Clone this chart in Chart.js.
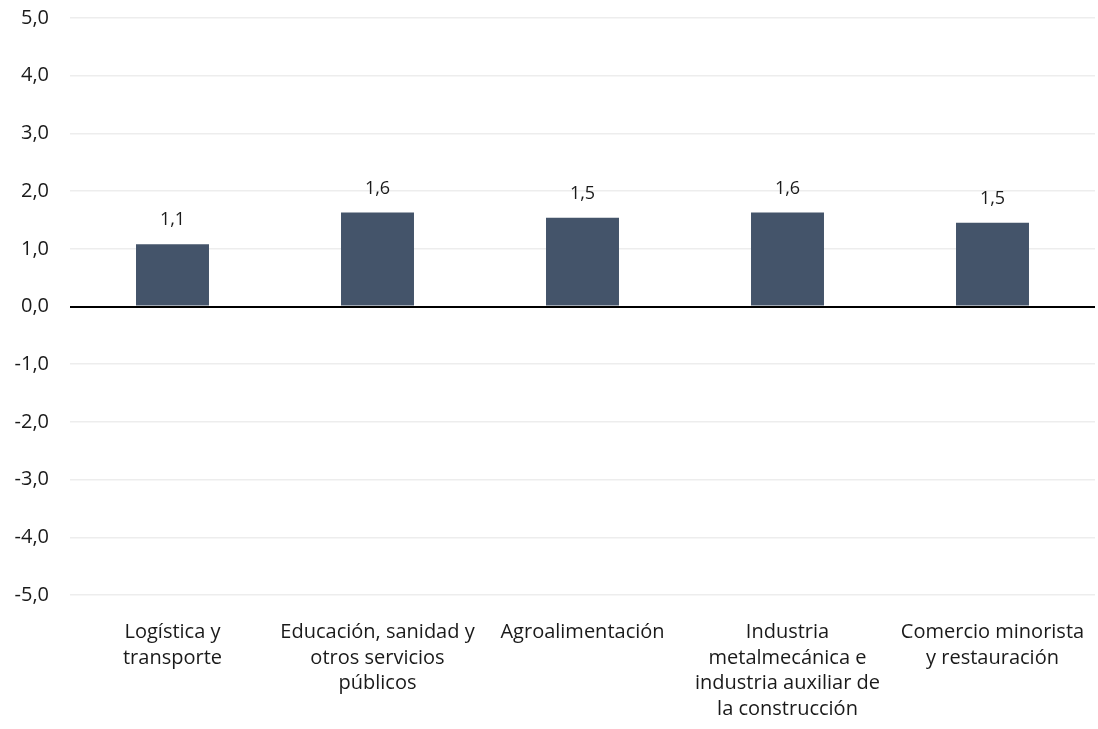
<!DOCTYPE html>
<html><head><meta charset="utf-8">
<script src="https://cdn.jsdelivr.net/npm/chart.js@4.4.0/dist/chart.umd.min.js"></script>
<style>html,body{margin:0;padding:0;background:#fff}#wrap{width:1098px;height:729px}</style>
</head><body><div id="wrap"><canvas id="c" width="1098" height="729"></canvas></div>
<script>
const categories = [
  ["Logística y", "transporte"],
  ["Educación, sanidad y", "otros servicios", "públicos"],
  ["Agroalimentación"],
  ["Industria", "metalmecánica e", "industria auxiliar de", "la construcción"],
  ["Comercio minorista", "y restauración"]
];
const values = [1.08, 1.63, 1.54, 1.63, 1.45];
const valueLabels = ["1,1", "1,6", "1,5", "1,6", "1,5"];
const yMin = -5, yMax = 5, yStep = 1;

const FONT = "'Open Sans', sans-serif";
const TEXT = '#1a1a1a';

const dataLabels = {
  id: 'dataLabels',
  afterDatasetsDraw(chart) {
    const ctx = chart.ctx;
    const meta = chart.getDatasetMeta(0);
    ctx.save();
    ctx.font = '18px ' + FONT;
    ctx.fillStyle = TEXT;
    ctx.textAlign = 'center';
    ctx.textBaseline = 'middle';
    meta.data.forEach((bar, i) => {
      ctx.fillText(valueLabels[i], bar.x, bar.y - 24);
    });
    ctx.restore();
  }
};

new Chart(document.getElementById('c'), {
  type: 'bar',
  data: {
    labels: categories,
    datasets: [{
      data: values,
      backgroundColor: '#44546A',
      borderWidth: 0,
      categoryPercentage: 1,
      barPercentage: 0.356
    }]
  },
  options: {
    responsive: false,
    animation: false,
    devicePixelRatio: 1,
    layout: { padding: { top: 18, right: 3, left: 0, bottom: 0 } },
    plugins: { legend: { display: false }, tooltip: { enabled: false } },
    scales: {
      x: {
        grid: { display: false },
        border: { display: false },
        ticks: {
          color: TEXT,
          font: { family: FONT, size: 20, lineHeight: 1.275 },
          maxRotation: 0, autoSkip: false,
          padding: 17
        },
        afterFit(s) { s.height = 134; s.paddingLeft = 0; s.paddingRight = 0; }
      },
      y: {
        min: yMin, max: yMax,
        border: { display: false },
        grid: {
          color: c => c.tick && c.tick.value === 0 ? '#000000' : '#EDEDED',
          lineWidth: c => c.tick && c.tick.value === 0 ? 2 : 1.5,
          drawTicks: false
        },
        ticks: {
          stepSize: yStep,
          color: TEXT,
          font: { family: FONT, size: 20 },
          padding: 21,
          callback: v => v.toFixed(1).replace('.', ',')
        },
        afterFit(s) { s.width = 70; s.paddingTop = 0; s.paddingBottom = 0; }
      }
    }
  },
  plugins: [dataLabels]
});
</script></body></html>
